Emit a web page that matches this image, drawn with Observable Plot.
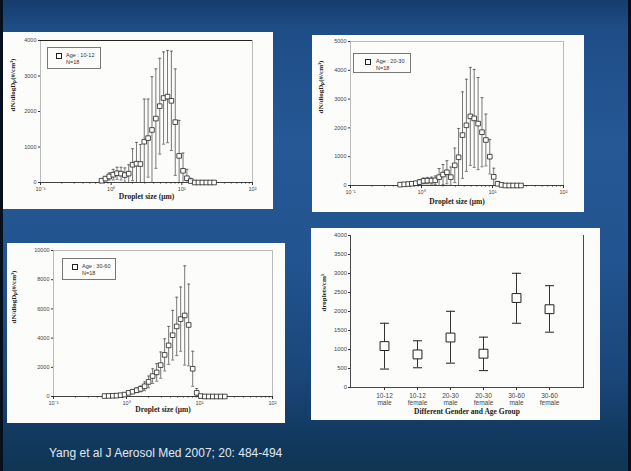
<!DOCTYPE html>
<html><head><meta charset="utf-8">
<script src="https://cdn.jsdelivr.net/npm/d3@7"></script>
<script src="https://cdn.jsdelivr.net/npm/@observablehq/plot@0.6"></script>
<style>
html,body{margin:0;padding:0;}
body{width:631px;height:471px;overflow:hidden;position:relative;
 background:linear-gradient(180deg,#163c6c 0%,#1f4d86 6%,#255895 30%,#22548f 55%,#1a4679 80%,#123a60 92%,#0f3553 100%);
 box-shadow: inset 3px 0 0 #06101c, inset -3px 0 0 #06101c;}
.panel{position:absolute;background:#fcfcfa;}
.panel svg{position:absolute;left:0;top:0;}
.legend{position:absolute;border:1px solid #777;box-sizing:border-box;font-family:"Liberation Sans",Arial,sans-serif;font-size:5.5px;color:#333;}
.legend .sq{position:absolute;width:4px;height:4px;border:0.8px solid #222;background:#fff;}
.legend .lt{position:absolute;white-space:nowrap;line-height:6px;}
.cite{position:absolute;left:49px;top:446px;font-family:"Liberation Sans",Arial,sans-serif;font-size:12px;color:#e2e8f0;white-space:nowrap;}
</style></head>
<body>
<div id="p1" class="panel" style="left:3px;top:32px;width:270px;height:177px"></div>
<div id="p2" class="panel" style="left:312px;top:35px;width:272px;height:177px"></div>
<div id="p3" class="panel" style="left:7px;top:243px;width:278px;height:180px"></div>
<div id="p4" class="panel" style="left:311px;top:228px;width:289px;height:192px"></div>
<div class="cite">Yang et al J Aerosol Med 2007; 20: 484-494</div>
<script>
// droplet size bins (µm)
const sizes = [0.50,0.57,0.65,0.73,0.83,0.94,1.07,1.21,1.38,1.56,1.77,2.01,2.28,2.59,2.94,3.33,3.78,4.29,4.87,5.52,6.27,7.11,8.07,9.16,10.4,11.8,13.4,15.2,17.2,19.5,22.2,25.2,28.6];
// Age 10-12
const age1012Mean = [null,null,null,50,110,170,220,260,250,210,250,500,530,520,1150,1250,1480,1800,2150,2380,2420,2300,1700,750,330,120,40,0,0,0,0,0,0];
const age1012Sd   = [null,null,null,30,60,100,150,170,180,200,250,450,600,550,1200,1100,1500,1400,1350,1300,1300,1400,1500,1000,500,250,80,0,0,0,0,0,0];
// Age 20-30
const age2030Mean = [30,40,50,60,80,120,160,170,170,180,290,380,460,290,700,980,1750,2090,2400,2330,2150,1850,1580,1000,300,60,20,0,0,0,0,0,null];
const age2030Sd   = [20,30,40,50,60,80,100,110,120,150,300,350,400,350,600,1000,1500,1600,1700,1700,1600,1200,900,600,300,80,20,0,0,0,0,0,null];
// Age 30-60
const age3060Mean = [30,40,50,60,90,130,250,330,430,520,700,1000,1400,1650,2150,2850,3500,4200,4800,5300,5550,4900,1900,250,30,0,0,0,0,0,0,null,null];
const age3060Sd   = [10,20,30,40,60,80,100,120,150,200,300,400,500,600,900,1100,1300,1700,2000,2200,3400,2800,1200,300,30,0,0,0,0,0,0,null,null];

const xTickValues = [0.1,1,10,100];
const xTickLabels = ["10\u207B\u00B9","10\u2070","10\u00B9","10\u00B2"];
const xMinorTicks = [0.2,0.3,0.4,0.5,0.6,0.7,0.8,0.9,2,3,4,5,6,7,8,9,20,30,40,50,60,70,80,90];
const yTicks1 = [0,1000,2000,3000,4000];
const yTicks2 = [0,1000,2000,3000,4000,5000];
const yTicks3 = [0,2000,4000,6000,8000,10000];

// gender / age groups
const groupLabels = ["10-12\nmale","10-12\nfemale","20-30\nmale","20-30\nfemale","30-60\nmale","30-60\nfemale"];
const groupMeans  = [1090,870,1315,890,2355,2060];
const groupUpper  = [1690,1230,2005,1325,3005,2680];
const groupLower  = [485,520,640,445,1690,1455];
const yTicks4 = [0,500,1000,1500,2000,2500,3000,3500,4000];

const capSymbol = {draw(ctx,size){const w=Math.sqrt(size/Math.PI);ctx.moveTo(-w,0);ctx.lineTo(w,0);}};
const sansFont = "'Liberation Sans', Arial, sans-serif";
const serifFont = "'Liberation Serif', 'Times New Roman', serif";
const yLabelDist = "dN/dlogD\u209A(#/cm\u00B3)";

function distPlot(el, o){
  const data = sizes.map((s,i)=>({size:s, mean:o.mean[i], sd:o.sd[i]})).filter(d=>d.mean!=null);
  const bars = data.filter(d=>d.sd>0);
  const low = bars.filter(d=>d.mean-d.sd>0);
  const marks = [
    Plot.frame({stroke:"#a0a0a0", strokeWidth:0.7}),
    Plot.axisY({ticks:o.yTicks, tickSize:2, tickPadding:2, tickFormat:d=>String(d), label:null, fontSize:5.5, fill:"#444"}),
    Plot.axisX({ticks:xMinorTicks, tickSize:1.5, tickFormat:()=>"", label:null}),
    Plot.axisX({ticks:xTickValues, tickSize:3, tickPadding:2, tickFormat:d=>xTickLabels[xTickValues.indexOf(d)], label:null, fontSize:5.5, fill:"#444"}),
    Plot.ruleY([0], {stroke:"#333", strokeWidth:0.9}),
    Plot.ruleX(bars, {x:"size", y1:d=>Math.max(0,d.mean-d.sd), y2:d=>d.mean+d.sd, stroke:"#555", strokeWidth:0.8}),
    Plot.dot(bars, {x:"size", y:d=>d.mean+d.sd, symbol:capSymbol, r:1.5, stroke:"#555", strokeWidth:0.8}),
    Plot.dot(low, {x:"size", y:d=>d.mean-d.sd, symbol:capSymbol, r:1.5, stroke:"#555", strokeWidth:0.8}),
    Plot.dot(data, {x:"size", y:"mean", symbol:"square", r:2.6, fill:"white", stroke:"#222", strokeWidth:0.8}),
    Plot.text(["Droplet size (\u03BCm)"], {text:d=>d, frameAnchor:"bottom", dy:o.xlDy, fontFamily:serifFont, fontWeight:"bold", fontSize:7.5, fill:"#222"}),
    Plot.text([yLabelDist], {text:d=>d, frameAnchor:"left", dx:o.ylDx, rotate:-90, fontFamily:serifFont, fontWeight:"bold", fontSize:7, fill:"#222"})
  ];
  if (o.topDark) marks.push(Plot.ruleY([o.yMax], {stroke:"#222", strokeWidth:1}));
  const svg = Plot.plot({
    width:o.width, height:o.height,
    marginLeft:o.ml, marginRight:o.mr, marginTop:o.mt, marginBottom:o.mb,
    style:{background:"transparent", fontFamily:sansFont, color:"#333", overflow:"visible"},
    x:{type:"log", domain:[0.1,100]},
    y:{domain:[0,o.yMax]},
    marks
  });
  el.appendChild(svg);
  const lg = document.createElement("div");
  lg.className = "legend";
  lg.style.cssText = `left:${o.lg[0]}px;top:${o.lg[1]}px;width:${o.lg[2]}px;height:${o.lg[3]}px;`;
  lg.innerHTML = `<span class="sq" style="left:${o.lg[4]}px;top:5px"></span>
    <span class="lt" style="left:${o.lg[5]}px;top:4px">${o.ageText}</span>
    <span class="lt" style="left:${o.lg[5]}px;top:10.5px">N=18</span>`;
  el.appendChild(lg);
}

distPlot(document.getElementById("p1"), {width:270,height:177,ml:37,mr:21,mt:8,mb:27,yMax:4000,yTicks:yTicks1,
  mean:age1012Mean, sd:age1012Sd, xlDy:16, ylDx:-28, topDark:true, lg:[44,15,54,22,8,18], ageText:"Age : 10-12"});
distPlot(document.getElementById("p2"), {width:272,height:177,ml:38,mr:21,mt:6,mb:27,yMax:5000,yTicks:yTicks2,
  mean:age2030Mean, sd:age2030Sd, xlDy:18, ylDx:-30, lg:[41,18,58,20,11,22], ageText:"Age : 20-30"});
distPlot(document.getElementById("p3"), {width:278,height:180,ml:46,mr:13,mt:7,mb:27,yMax:10000,yTicks:yTicks3,
  mean:age3060Mean, sd:age3060Sd, xlDy:15, ylDx:-40, lg:[55,15,54,22,9,19], ageText:"Age : 30-60"});

// group comparison panel
const groupData = groupLabels.map((g,i)=>({group:g, mean:groupMeans[i], upper:groupUpper[i], lower:groupLower[i]}));
const p4 = Plot.plot({
  width:289, height:192, marginLeft:39, marginRight:17, marginTop:7, marginBottom:33,
  style:{background:"transparent", fontFamily:sansFont, color:"#333", overflow:"visible"},
  x:{type:"point", domain:groupLabels, padding:1},
  y:{domain:[0,4000]},
  marks:[
    Plot.frame({anchor:"left", stroke:"#333", strokeWidth:0.9}),
    Plot.frame({anchor:"right", stroke:"#333", strokeWidth:0.9}),
    Plot.frame({anchor:"bottom", stroke:"#333", strokeWidth:0.9}),
    Plot.axisY({ticks:yTicks4, tickSize:2, tickPadding:1.5, tickFormat:d=>String(d), label:null, fontSize:5.8, fill:"#444"}),
    Plot.axisX({tickSize:3, tickPadding:2, label:null, fontSize:6.5, fill:"#444", lineHeight:1.15}),
    Plot.ruleX(groupData, {x:"group", y1:"lower", y2:"upper", stroke:"#333", strokeWidth:1}),
    Plot.dot(groupData, {x:"group", y:"upper", symbol:capSymbol, r:4.5, stroke:"#333", strokeWidth:1.1}),
    Plot.dot(groupData, {x:"group", y:"lower", symbol:capSymbol, r:4.5, stroke:"#333", strokeWidth:1.1}),
    Plot.dot(groupData, {x:"group", y:"mean", symbol:"square", r:5, fill:"white", stroke:"#222", strokeWidth:1}),
    Plot.text(["Different Gender and Age Group"], {text:d=>d, frameAnchor:"bottom", dy:26, fontFamily:serifFont, fontWeight:"bold", fontSize:7.5, fill:"#222"}),
    Plot.text(["droplets/cm\u00B3"], {text:d=>d, frameAnchor:"left", dx:-27, rotate:-90, fontFamily:serifFont, fontWeight:"bold", fontSize:7, fill:"#222"})
  ]
});
document.getElementById("p4").appendChild(p4);
</script>
</body></html>
